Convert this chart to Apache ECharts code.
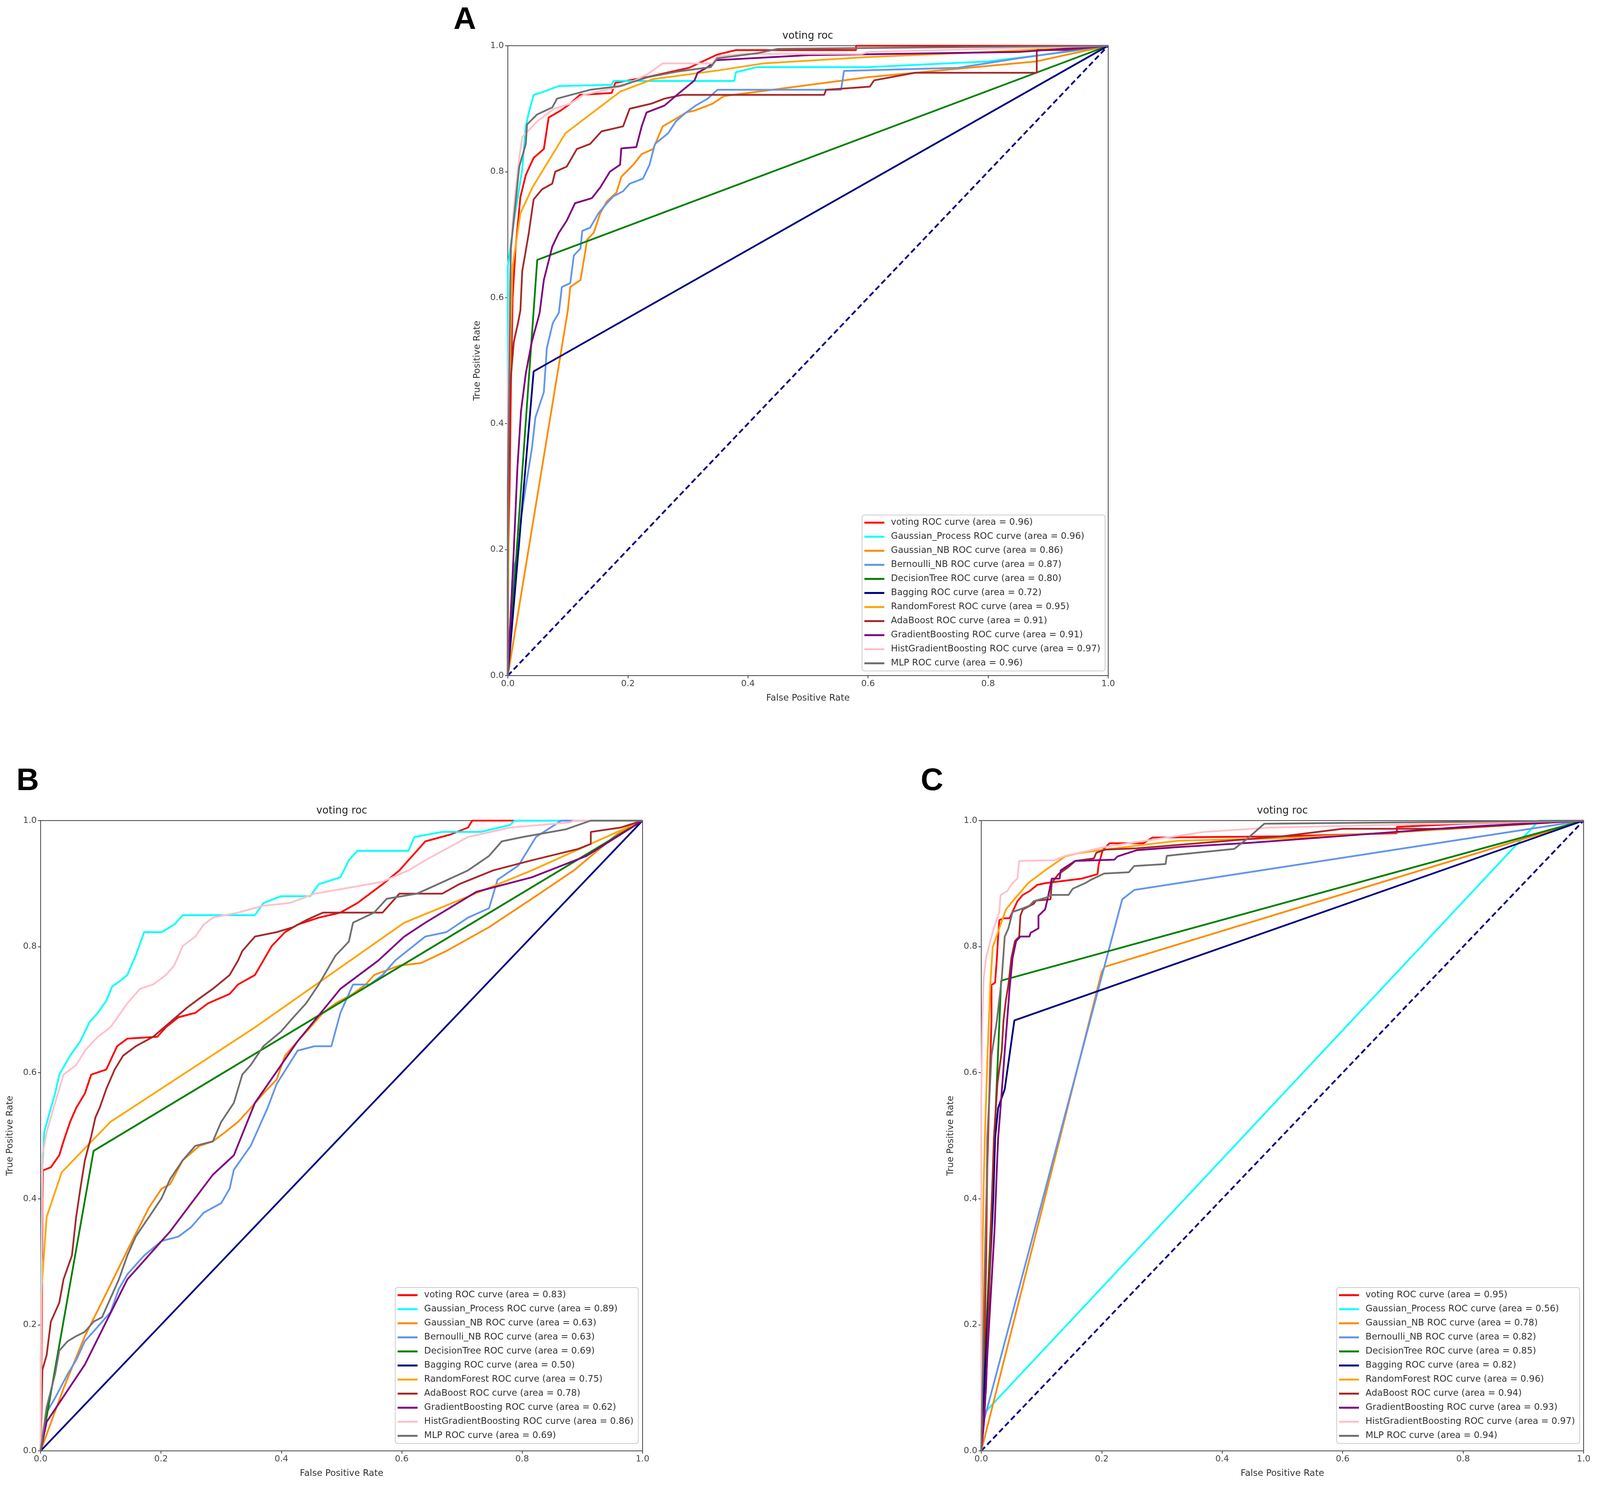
<!DOCTYPE html>
<html>
<head>
<meta charset="utf-8">
<script src="https://cdn.jsdelivr.net/npm/echarts@6/dist/echarts.min.js"></script>
<style>
  html, body { margin: 0; padding: 0; background: #fff; overflow: hidden; }
  #chart { width: 100vw; height: 100vh; }
</style>
</head>
<body>
<div id="chart"></div>
<script>
// model names and AUC values shown in the legends
const models = ['voting', 'Gaussian_Process', 'Gaussian_NB', 'Bernoulli_NB', 'DecisionTree', 'Bagging',
  'RandomForest', 'AdaBoost', 'GradientBoosting', 'HistGradientBoosting', 'MLP'];
const aucA = ['0.96', '0.96', '0.86', '0.87', '0.80', '0.72', '0.95', '0.91', '0.91', '0.97', '0.96'];
const aucB = ['0.83', '0.89', '0.63', '0.63', '0.69', '0.50', '0.75', '0.78', '0.62', '0.86', '0.69'];
const aucC = ['0.95', '0.56', '0.78', '0.82', '0.85', '0.82', '0.96', '0.94', '0.93', '0.97', '0.94'];
const panelLetters = ['A', 'B', 'C'];
const chanceLine = [[0, 0], [1, 1]];

// panel A curves [fpr, tpr]
const aVoting = [[0,0],[0,0.15],[0.003,0.3],[0.005,0.45],[0.008,0.6],[0.013,0.68],[0.017,0.72],[0.021,0.76],[0.03,0.795],[0.043,0.822],[0.06,0.836],[0.068,0.886],[0.088,0.897],[0.104,0.908],[0.12,0.922],[0.173,0.925],[0.179,0.941],[0.236,0.951],[0.302,0.965],[0.349,0.986],[0.38,0.993],[0.58,0.993],[0.58,1],[1,1]];
const aGP = [[0,0],[0,0.65],[0.003,0.67],[0.01,0.72],[0.02,0.78],[0.024,0.803],[0.028,0.85],[0.03,0.872],[0.035,0.894],[0.043,0.922],[0.06,0.927],[0.085,0.936],[0.173,0.938],[0.176,0.944],[0.377,0.944],[0.38,0.958],[0.415,0.966],[0.6,0.966],[0.8,0.975],[0.93,0.99],[1,1]];
const aGNB = [[0,0],[0.1,0.58],[0.104,0.617],[0.121,0.628],[0.129,0.673],[0.132,0.692],[0.143,0.703],[0.154,0.734],[0.165,0.753],[0.181,0.767],[0.189,0.792],[0.209,0.811],[0.223,0.828],[0.242,0.836],[0.258,0.872],[0.278,0.883],[0.297,0.894],[0.311,0.897],[0.341,0.908],[0.36,0.92],[0.6,0.95],[0.88,0.975],[1,1]];
const aBNB = [[0,0],[0.005,0.1],[0.01,0.17],[0.018,0.2],[0.022,0.25],[0.03,0.3],[0.04,0.36],[0.046,0.41],[0.06,0.45],[0.065,0.52],[0.075,0.56],[0.085,0.576],[0.09,0.617],[0.104,0.623],[0.11,0.667],[0.121,0.678],[0.124,0.706],[0.137,0.711],[0.151,0.734],[0.165,0.75],[0.176,0.761],[0.192,0.769],[0.203,0.781],[0.225,0.789],[0.236,0.811],[0.245,0.844],[0.267,0.861],[0.28,0.88],[0.297,0.894],[0.313,0.905],[0.333,0.916],[0.349,0.93],[0.555,0.93],[0.56,0.96],[0.75,0.965],[0.85,0.98],[1,1]];
const aDT = [[0,0],[0.049,0.66],[1,1]];
const aBag = [[0,0],[0.043,0.483],[1,1]];
const aRF = [[0,0],[0.002,0.4],[0.005,0.55],[0.008,0.65],[0.021,0.734],[0.041,0.775],[0.096,0.861],[0.187,0.927],[0.242,0.947],[0.352,0.961],[0.426,0.972],[0.6,0.982],[0.8,0.99],[1,1]];
const aAda = [[0,0],[0,0.2],[0.003,0.45],[0.01,0.53],[0.017,0.56],[0.021,0.58],[0.024,0.642],[0.035,0.703],[0.043,0.756],[0.057,0.772],[0.074,0.781],[0.079,0.8],[0.098,0.808],[0.115,0.836],[0.137,0.844],[0.156,0.864],[0.192,0.872],[0.203,0.9],[0.239,0.908],[0.261,0.916],[0.291,0.922],[0.527,0.922],[0.53,0.93],[0.603,0.935],[0.61,0.945],[0.678,0.957],[0.881,0.957],[0.881,0.993],[0.93,0.993],[1,1]];
const aGB = [[0,0],[0.005,0.1],[0.01,0.2],[0.016,0.33],[0.022,0.42],[0.03,0.48],[0.04,0.53],[0.05,0.565],[0.053,0.576],[0.06,0.628],[0.074,0.681],[0.085,0.703],[0.098,0.722],[0.112,0.75],[0.14,0.758],[0.154,0.775],[0.17,0.8],[0.187,0.811],[0.189,0.837],[0.214,0.839],[0.223,0.872],[0.231,0.894],[0.261,0.905],[0.283,0.923],[0.311,0.945],[0.316,0.957],[0.333,0.966],[0.347,0.977],[0.5,0.985],[0.85,0.99],[1,1]];
const aHGB = [[0,0],[0,0.45],[0.003,0.62],[0.008,0.72],[0.014,0.78],[0.02,0.828],[0.024,0.855],[0.049,0.88],[0.077,0.9],[0.104,0.908],[0.126,0.922],[0.192,0.936],[0.233,0.955],[0.258,0.972],[0.341,0.972],[0.349,0.983],[0.391,0.987],[0.59,0.987],[0.6,0.99],[1,1]];
const aMLP = [[0,0],[0,0.3],[0.002,0.45],[0.004,0.6],[0.005,0.678],[0.019,0.808],[0.03,0.844],[0.032,0.875],[0.049,0.891],[0.074,0.902],[0.082,0.916],[0.137,0.93],[0.187,0.936],[0.233,0.95],[0.283,0.959],[0.338,0.966],[0.349,0.98],[0.415,0.988],[0.45,0.995],[1,1]];

// panel B curves
const bVoting = [[0,0],[0.002,0.2],[0.003,0.4],[0.004,0.445],[0.017,0.45],[0.031,0.469],[0.038,0.491],[0.049,0.522],[0.059,0.544],[0.0735,0.567],[0.084,0.597],[0.109,0.605],[0.127,0.642],[0.144,0.654],[0.194,0.657],[0.208,0.672],[0.229,0.688],[0.257,0.695],[0.278,0.71],[0.314,0.725],[0.328,0.74],[0.356,0.755],[0.37,0.778],[0.384,0.801],[0.406,0.823],[0.427,0.835],[0.462,0.846],[0.498,0.854],[0.526,0.869],[0.547,0.884],[0.568,0.899],[0.596,0.921],[0.611,0.937],[0.625,0.952],[0.639,0.967],[0.681,0.978],[0.71,0.989],[0.717,1],[1,1]];
const bGP = [[0,0],[0.001,0.3],[0.003,0.45],[0.006,0.506],[0.017,0.544],[0.024,0.567],[0.031,0.597],[0.049,0.627],[0.066,0.65],[0.081,0.68],[0.095,0.695],[0.109,0.714],[0.119,0.737],[0.13,0.744],[0.144,0.755],[0.158,0.786],[0.172,0.823],[0.201,0.823],[0.222,0.835],[0.236,0.85],[0.356,0.85],[0.37,0.869],[0.399,0.88],[0.448,0.88],[0.462,0.899],[0.498,0.91],[0.512,0.937],[0.526,0.952],[0.611,0.952],[0.621,0.974],[0.667,0.982],[0.731,0.982],[0.78,0.993],[0.787,1],[1,1]];
const bGNB = [[0,0],[0.038,0.099],[0.0735,0.182],[0.109,0.25],[0.144,0.318],[0.18,0.386],[0.201,0.416],[0.215,0.423],[0.236,0.461],[0.264,0.484],[0.286,0.491],[0.307,0.506],[0.328,0.522],[0.349,0.544],[0.37,0.567],[0.392,0.589],[0.406,0.627],[0.427,0.65],[0.448,0.672],[0.469,0.695],[0.49,0.71],[0.519,0.725],[0.54,0.74],[0.554,0.755],[0.596,0.77],[0.632,0.774],[0.674,0.793],[0.745,0.831],[0.816,0.876],[0.886,0.921],[0.957,0.978],[1,1]];
const bBNB = [[0,0],[0.01,0.061],[0.024,0.084],[0.045,0.122],[0.059,0.144],[0.0735,0.174],[0.095,0.197],[0.116,0.22],[0.13,0.257],[0.144,0.28],[0.172,0.31],[0.201,0.333],[0.229,0.34],[0.25,0.355],[0.271,0.378],[0.3,0.393],[0.314,0.416],[0.321,0.446],[0.349,0.484],[0.363,0.514],[0.377,0.544],[0.392,0.582],[0.427,0.635],[0.455,0.642],[0.483,0.642],[0.498,0.695],[0.519,0.74],[0.547,0.74],[0.568,0.755],[0.589,0.778],[0.639,0.816],[0.674,0.823],[0.71,0.846],[0.745,0.861],[0.759,0.906],[0.794,0.929],[0.823,0.974],[0.865,1],[1,1]];
const bDT = [[0,0],[0.088,0.476],[1,1]];
const bBag = [[0,0],[1,1]];
const bRF = [[0,0],[0.001,0.25],[0.01,0.371],[0.035,0.442],[0.116,0.522],[0.356,0.672],[0.604,0.838],[0.816,0.921],[1,1]];
const bAda = [[0,0],[0.003,0.129],[0.01,0.152],[0.017,0.205],[0.031,0.235],[0.038,0.272],[0.052,0.31],[0.059,0.371],[0.066,0.416],[0.0735,0.461],[0.084,0.499],[0.091,0.529],[0.098,0.544],[0.109,0.574],[0.123,0.605],[0.137,0.627],[0.158,0.642],[0.187,0.657],[0.215,0.68],[0.243,0.703],[0.264,0.718],[0.286,0.733],[0.314,0.755],[0.328,0.778],[0.335,0.793],[0.356,0.816],[0.392,0.823],[0.42,0.831],[0.441,0.842],[0.469,0.854],[0.568,0.854],[0.596,0.884],[0.667,0.884],[0.695,0.899],[0.752,0.921],[0.816,0.937],[0.893,0.955],[0.914,0.963],[0.914,0.982],[0.964,0.989],[1,1]];
const bGB = [[0,0],[0.01,0.046],[0.0735,0.137],[0.144,0.272],[0.215,0.348],[0.286,0.438],[0.321,0.469],[0.356,0.552],[0.427,0.65],[0.498,0.733],[0.561,0.778],[0.604,0.816],[0.639,0.838],[0.724,0.887],[0.816,0.91],[0.907,0.944],[1,1]];
const bHGB = [[0,0],[0.002,0.35],[0.003,0.47],[0.01,0.506],[0.024,0.552],[0.038,0.597],[0.059,0.612],[0.0735,0.635],[0.095,0.657],[0.116,0.672],[0.13,0.691],[0.144,0.71],[0.165,0.733],[0.187,0.74],[0.208,0.755],[0.222,0.77],[0.236,0.801],[0.257,0.816],[0.271,0.835],[0.286,0.846],[0.328,0.854],[0.37,0.865],[0.413,0.869],[0.455,0.884],[0.498,0.891],[0.568,0.903],[0.611,0.921],[0.639,0.937],[0.71,0.974],[0.78,0.989],[0.879,0.997],[0.886,1],[1,1]];
const bMLP = [[0,0],[0.01,0.069],[0.024,0.122],[0.031,0.159],[0.045,0.174],[0.059,0.182],[0.0735,0.189],[0.088,0.205],[0.102,0.212],[0.116,0.242],[0.13,0.272],[0.144,0.31],[0.158,0.34],[0.18,0.371],[0.201,0.401],[0.215,0.431],[0.236,0.461],[0.257,0.484],[0.286,0.491],[0.3,0.522],[0.321,0.552],[0.335,0.597],[0.349,0.612],[0.37,0.642],[0.399,0.665],[0.42,0.688],[0.441,0.71],[0.462,0.74],[0.476,0.763],[0.49,0.786],[0.512,0.808],[0.519,0.838],[0.554,0.854],[0.575,0.876],[0.625,0.884],[0.66,0.899],[0.71,0.921],[0.745,0.944],[0.766,0.967],[0.801,0.974],[0.872,0.986],[0.914,1],[1,1]];

// panel C curves
const cVoting = [[0,0],[0.004,0.1],[0.008,0.3],[0.01,0.45],[0.013,0.551],[0.015,0.617],[0.017,0.683],[0.017,0.739],[0.023,0.743],[0.026,0.782],[0.028,0.816],[0.03,0.842],[0.037,0.845],[0.047,0.845],[0.06,0.872],[0.069,0.882],[0.08,0.888],[0.093,0.898],[0.108,0.901],[0.167,0.908],[0.193,0.915],[0.195,0.931],[0.202,0.954],[0.213,0.964],[0.269,0.964],[0.284,0.973],[0.5,0.975],[0.69,0.98],[0.69,0.99],[0.8,0.995],[1,1]];
const cGP = [[0,0],[0.005,0.06],[0.926,1],[1,1]];
const cGNB = [[0,0],[0.2,0.76],[0.205,0.768],[1,1]];
const cBNB = [[0,0],[0.005,0.05],[0.234,0.875],[0.254,0.89],[1,1]];
const cDT = [[0,0],[0.033,0.746],[1,1]];
const cBag = [[0,0],[0.01,0.2],[0.02,0.4],[0.023,0.496],[0.028,0.544],[0.039,0.574],[0.055,0.683],[1,1]];
const cRF = [[0,0],[0.002,0.3],[0.004,0.42],[0.006,0.496],[0.01,0.617],[0.015,0.739],[0.019,0.799],[0.03,0.829],[0.041,0.859],[0.052,0.872],[0.078,0.901],[0.106,0.921],[0.139,0.943],[0.16,0.948],[0.204,0.954],[0.247,0.959],[0.327,0.968],[0.5,0.972],[0.7,0.982],[1,1]];
const cAda = [[0,0],[0.008,0.1],[0.013,0.25],[0.017,0.38],[0.021,0.496],[0.027,0.584],[0.034,0.634],[0.037,0.683],[0.041,0.716],[0.045,0.739],[0.05,0.782],[0.056,0.809],[0.063,0.816],[0.065,0.849],[0.069,0.859],[0.087,0.868],[0.091,0.873],[0.115,0.875],[0.117,0.901],[0.128,0.915],[0.143,0.925],[0.156,0.936],[0.187,0.94],[0.191,0.949],[0.206,0.954],[0.258,0.956],[0.5,0.975],[0.6,0.987],[0.77,0.987],[1,1]];
const cGB = [[0,0],[0.005,0.05],[0.01,0.15],[0.016,0.25],[0.022,0.35],[0.026,0.45],[0.028,0.496],[0.032,0.544],[0.039,0.634],[0.043,0.683],[0.047,0.733],[0.052,0.782],[0.058,0.809],[0.065,0.816],[0.08,0.816],[0.082,0.822],[0.095,0.829],[0.095,0.849],[0.106,0.859],[0.11,0.875],[0.115,0.898],[0.117,0.908],[0.13,0.908],[0.132,0.921],[0.143,0.928],[0.156,0.936],[0.221,0.938],[0.226,0.943],[0.258,0.953],[0.327,0.958],[0.45,0.965],[0.8,0.99],[1,1]];
const cHGB = [[0,0],[0,0.55],[0.002,0.69],[0.004,0.749],[0.008,0.782],[0.015,0.809],[0.021,0.829],[0.03,0.855],[0.032,0.882],[0.043,0.888],[0.052,0.901],[0.06,0.908],[0.063,0.936],[0.121,0.937],[0.139,0.944],[0.182,0.953],[0.204,0.958],[0.37,0.982],[0.483,0.989],[1,1]];
const cMLP = [[0,0],[0.003,0.15],[0.006,0.3],[0.009,0.42],[0.01,0.496],[0.017,0.627],[0.026,0.683],[0.034,0.749],[0.039,0.816],[0.045,0.829],[0.052,0.855],[0.067,0.86],[0.08,0.865],[0.087,0.872],[0.108,0.878],[0.117,0.882],[0.145,0.882],[0.152,0.892],[0.173,0.901],[0.182,0.906],[0.204,0.916],[0.245,0.918],[0.254,0.928],[0.306,0.931],[0.308,0.944],[0.327,0.946],[0.42,0.955],[0.44,0.97],[0.47,0.995],[1,1]];

const curvesA = [aVoting, aGP, aGNB, aBNB, aDT, aBag, aRF, aAda, aGB, aHGB, aMLP];
const curvesB = [bVoting, bGP, bGNB, bBNB, bDT, bBag, bRF, bAda, bGB, bHGB, bMLP];
const curvesC = [cVoting, cGP, cGNB, cBNB, cDT, cBag, cRF, cAda, cGB, cHGB, cMLP];

// styling
const lineColors = ['#ff0000', '#00ffff', '#ff8c00', '#6495ed', '#008000', '#000080',
  '#ffa500', '#a52a2a', '#800080', '#ffc0cb', '#707070'];
const FONT = 'DejaVu Sans';

// layout is measured on a 4317 x 3808 page; squeeze it to whatever the viewport gives
const sx = window.innerWidth / 4317;
const sy = window.innerHeight / 3808;
const X = v => Math.round(v * sx);
const Y = v => Math.round(v * sy);

// grid boxes: [left, top, width, height]
const boxes = [[1370, 117, 1620, 1612], [110, 2100, 1624, 1613], [2648, 2100, 1625, 1613]];

const chart = echarts.init(document.getElementById('chart'));

const grids = boxes.map(b => ({
  left: X(b[0]), top: Y(b[1]), width: X(b[2]), height: Y(b[3]),
  show: true, borderColor: '#444', borderWidth: 2, backgroundColor: 'transparent'
}));

function axis(gi, isX) {
  return {
    type: 'value', gridIndex: gi, min: 0, max: 1, interval: 0.2,
    name: isX ? 'False Positive Rate' : 'True Positive Rate',
    nameLocation: 'middle', nameGap: isX ? Y(47) : X(70),
    nameTextStyle: { fontFamily: FONT, fontSize: 23, color: '#333' },
    axisLine: { show: true, lineStyle: { color: '#444', width: 2 } },
    axisTick: { show: true, length: 7, lineStyle: { color: '#444', width: 2 } },
    axisLabel: { fontFamily: FONT, fontSize: 22, color: '#444', margin: 10,
      formatter: v => v.toFixed(1) },
    splitLine: { show: false }
  };
}

const aucs = [aucA, aucB, aucC];
const curves = [curvesA, curvesB, curvesC];
const series = [];
const legends = [];
const legendPos = [[1335, 2091], [2595, 114], [55, 114]];

for (let p = 0; p < 3; p++) {
  if (p !== 1) {
    series.push({
      type: 'line', xAxisIndex: p, yAxisIndex: p, data: chanceLine, symbol: 'none',
      silent: true, z: 1,
      lineStyle: { color: '#000080', width: 4.5, type: [14, 8] }
    });
  }
  const names = [];
  for (let i = 0; i < models.length; i++) {
    const name = models[i] + ' ROC curve (area = ' + aucs[p][i] + ')';
    names.push(name);
    series.push({
      type: 'line', name: name, xAxisIndex: p, yAxisIndex: p,
      data: curves[p][i], symbol: 'none', z: 2 + i,
      lineStyle: { color: lineColors[i], width: 4.5 },
      itemStyle: { color: lineColors[i] }
    });
  }
  legends.push({
    data: names, orient: 'vertical', right: X(legendPos[p][0]), bottom: Y(legendPos[p][1]),
    icon: 'rect', itemWidth: X(54), itemHeight: 5, itemGap: 13, selectedMode: false,
    padding: [8, 12, 8, 6],
    backgroundColor: 'rgba(255,255,255,0.85)', borderColor: '#ccc', borderWidth: 2, borderRadius: 6,
    textStyle: { fontFamily: FONT, fontSize: 23, color: '#333', padding: [0, 0, 0, 12] }
  });
}

const graphics = [];
const titleY = [92, 2075, 2075];
boxes.forEach((b, i) => {
  graphics.push({
    type: 'text', x: X(b[0] + b[2] / 2), y: Y(titleY[i]),
    style: { text: 'voting roc', font: '26px ' + FONT, fill: '#222',
      align: 'center', verticalAlign: 'middle', textAlign: 'center', textVerticalAlign: 'middle' }
  });
});
const letterPos = [[1254, 52], [75, 2000], [2515, 2000]];
panelLetters.forEach((t, i) => {
  graphics.push({
    type: 'text', x: X(letterPos[i][0]), y: Y(letterPos[i][1]),
    style: { text: t, font: 'bold 80px "Liberation Sans"', fill: '#000',
      align: 'center', verticalAlign: 'middle', textAlign: 'center', textVerticalAlign: 'middle' }
  });
});

chart.setOption({
  animation: false,
  backgroundColor: '#fff',
  grid: grids,
  xAxis: [0, 1, 2].map(i => axis(i, true)),
  yAxis: [0, 1, 2].map(i => axis(i, false)),
  legend: legends,
  graphic: graphics,
  series: series
});
</script>
</body>
</html>
